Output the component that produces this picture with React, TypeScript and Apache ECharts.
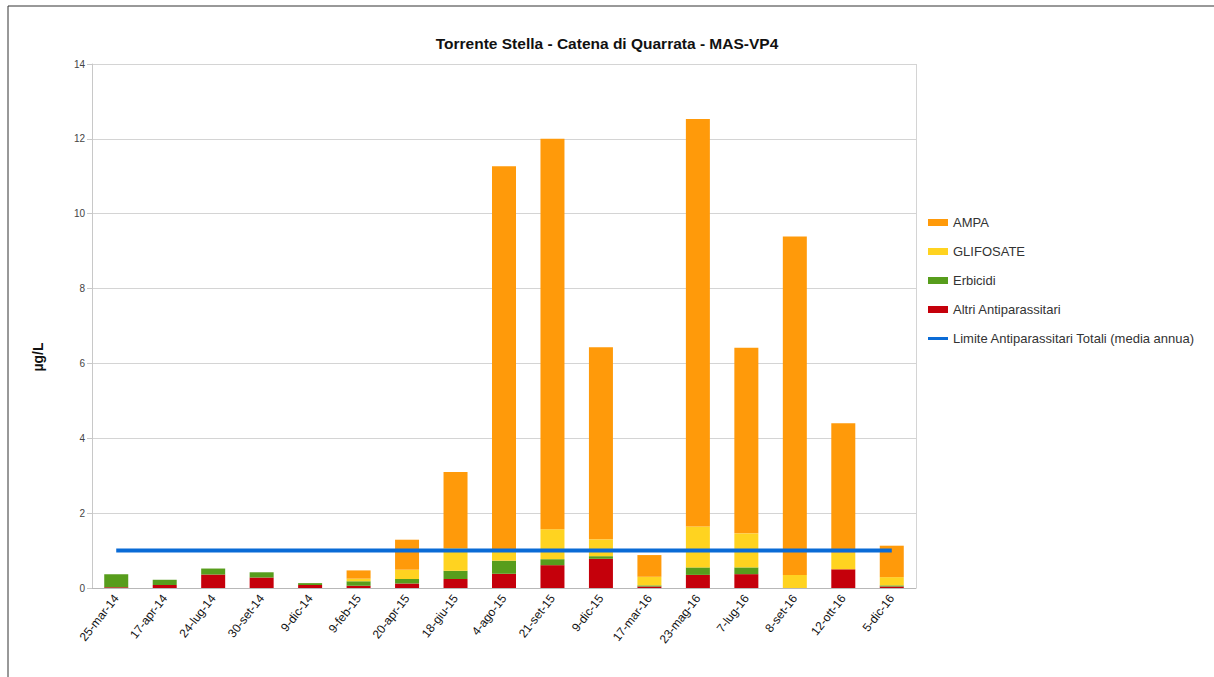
import React, { useEffect, useRef } from "react";
import * as echarts from "echarts";

const categories = ["25-mar-14","17-apr-14","24-lug-14","30-set-14","9-dic-14","9-feb-15","20-apr-15","18-giu-15","4-ago-15","21-set-15","9-dic-15","17-mar-16","23-mag-16","7-lug-16","8-set-16","12-ott-16","5-dic-16"];
const altri = [0.02,0.08,0.36,0.28,0.08,0.06,0.12,0.24,0.38,0.61,0.78,0.04,0.35,0.37,0.0,0.5,0.04];
const erbicidi = [0.35,0.14,0.16,0.14,0.05,0.12,0.12,0.22,0.35,0.16,0.07,0.03,0.2,0.18,0.0,0.0,0.03];
const glifosate = [0,0,0,0,0,0.07,0.25,0.6,0.25,0.8,0.45,0.23,1.09,0.91,0.35,0.44,0.22];
const ampa = [0,0,0,0,0,0.22,0.8,2.04,10.29,10.43,5.13,0.58,10.89,4.96,9.04,3.46,0.84];
const limite = [1,1,1,1,1,1,1,1,1,1,1,1,1,1,1,1,1];

const FONT = "'Liberation Sans', Arial, sans-serif";

export default function App() {
  const ref = useRef<HTMLDivElement>(null);
  useEffect(() => {
    if (!ref.current) return;
    const chart = echarts.init(ref.current, undefined, { renderer: "svg" });
    const barBase = { type: "bar", stack: "tot", barWidth: 24 };
    chart.setOption({
      animation: false,
      backgroundColor: "#ffffff",
      textStyle: { fontFamily: FONT },
      title: {
        text: "Torrente Stella - Catena di Quarrata - MAS-VP4",
        left: "center",
        top: 30,
        textStyle: { fontFamily: FONT, fontSize: 15.5, fontWeight: "bold", color: "#111" },
      },
      legend: {
        orient: "vertical",
        left: 923,
        top: 211,
        itemWidth: 20,
        itemHeight: 7,
        itemGap: 16,
        textStyle: { fontFamily: FONT, fontSize: 13, color: "#333" },
        data: [
          { name: "AMPA", icon: "rect" },
          { name: "GLIFOSATE", icon: "rect" },
          { name: "Erbicidi", icon: "rect" },
          { name: "Altri Antiparassitari", icon: "rect" },
          { name: "Limite Antiparassitari Totali (media annua)", icon: "path://M0,0 L20,0 L20,3 L0,3 Z" },
        ],
      },
      grid: { left: 92, right: 298, top: 64, bottom: 89 },
      xAxis: {
        type: "category",
        data: categories,
        axisLine: { lineStyle: { color: "#b8b8b8" } },
        axisTick: { show: false },
        axisLabel: { rotate: 52, fontSize: 12, color: "#111", fontFamily: FONT, margin: 8, interval: 0 },
      },
      yAxis: {
        type: "value",
        min: 0,
        max: 14,
        interval: 2,
        axisLine: { show: true, lineStyle: { color: "#c8c8c8" } },
        axisTick: { show: true, length: 5, lineStyle: { color: "#c8c8c8" } },
        axisLabel: { fontSize: 10, color: "#444", fontFamily: FONT, margin: 7 },
        splitLine: { lineStyle: { color: "#d4d4d4" } },
      },
      graphic: [
        { type: "line", shape: { x1: 8, y1: 6, x2: 1214, y2: 6 }, style: { stroke: "#333", lineWidth: 1 } },
        { type: "line", shape: { x1: 8, y1: 6, x2: 8, y2: 677 }, style: { stroke: "#333", lineWidth: 1 } },
        { type: "line", shape: { x1: 916.5, y1: 64, x2: 916.5, y2: 588 }, style: { stroke: "#d4d4d4", lineWidth: 1 } },
        {
          type: "text",
          x: 38,
          y: 357,
          rotation: Math.PI / 2,
          style: {
            text: "µg/L",
            font: `bold 14px ${FONT}`,
            fill: "#111",
            align: "center",
            verticalAlign: "middle",
          },
        },
      ],
      series: [
        { ...barBase, name: "Altri Antiparassitari", data: altri, itemStyle: { color: "#c5000b" } },
        { ...barBase, name: "Erbicidi", data: erbicidi, itemStyle: { color: "#579d1c" } },
        { ...barBase, name: "GLIFOSATE", data: glifosate, itemStyle: { color: "#ffd320" } },
        { ...barBase, name: "AMPA", data: ampa, itemStyle: { color: "#ff9a0a" } },
        {
          type: "line",
          name: "Limite Antiparassitari Totali (media annua)",
          data: limite,
          symbol: "none",
          showSymbol: false,
          z: 5,
          lineStyle: { color: "#0a6bd6", width: 4 },
          itemStyle: { color: "#0a6bd6" },
        },
      ],
    });
    return () => chart.dispose();
  }, []);
  return <div ref={ref} style={{ position: "fixed", left: 0, top: 0, width: 1214, height: 677 }} />;
}
